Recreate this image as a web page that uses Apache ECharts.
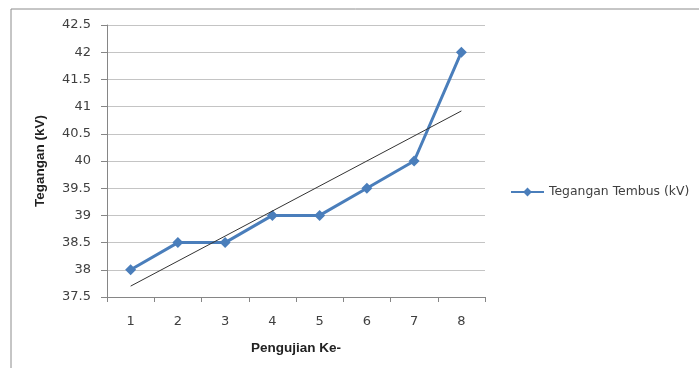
<!DOCTYPE html>
<html>
<head>
<meta charset="utf-8">
<script src="https://cdn.jsdelivr.net/npm/echarts@6/dist/echarts.min.js"></script>
<style>
  html, body { margin: 0; padding: 0; background: #fff; }
  #chart { width: 699px; height: 368px; }
</style>
</head>
<body>
<div id="chart"></div>
<script>
// Test number on the x axis
const categories = ['1', '2', '3', '4', '5', '6', '7', '8'];
// Breakdown voltage per test (kV)
const tegangan = [38, 38.5, 38.5, 39, 39, 39.5, 40, 42];
// Linear trend line: value at the first and last test
const trendEnds = [37.7, 40.92];
const seriesName = 'Tegangan Tembus (kV)';

const trendData = categories.map((c, i) =>
  i === 0 ? trendEnds[0] : (i === categories.length - 1 ? trendEnds[1] : null));

const textColor = '#404040';
const font = 'DejaVu Sans';

const chart = echarts.init(document.getElementById('chart'), null, { renderer: 'canvas' });
chart.setOption({
  animation: false,
  backgroundColor: '#fff',
  graphic: [{
    type: 'rect',
    shape: { x: 11, y: 9, width: 720, height: 400 },
    style: { fill: 'none', stroke: '#8c8c8c', lineWidth: 1 },
    silent: true
  }],
  grid: { left: 107, right: 214, top: 25, bottom: 71 },
  legend: {
    data: [seriesName],
    left: 505, top: 181,
    itemWidth: 33, itemHeight: 11, itemGap: 4,
    textStyle: { fontFamily: font, fontSize: 12.4, color: textColor }
  },
  xAxis: {
    type: 'category',
    data: categories,
    boundaryGap: true,
    name: 'Pengujian Ke-',
    nameLocation: 'middle',
    nameGap: 44,
    nameTextStyle: { fontFamily: 'Liberation Sans', fontWeight: 'bold', fontSize: 13.5, color: '#222' },
    axisLine: { lineStyle: { color: '#868686', width: 1 } },
    axisTick: { show: true, length: 5, lineStyle: { color: '#868686' } },
    axisLabel: { fontFamily: font, fontSize: 13, color: textColor, margin: 18 },
    splitLine: { show: false }
  },
  yAxis: {
    type: 'value',
    min: 37.5, max: 42.5, interval: 0.5,
    name: 'Tegangan (kV)',
    nameLocation: 'middle',
    nameGap: 60,
    nameRotate: 90,
    nameTextStyle: { fontFamily: 'Liberation Sans', fontWeight: 'bold', fontSize: 13.5, color: '#222' },
    axisLine: { show: true, lineStyle: { color: '#868686', width: 1 } },
    axisTick: { show: true, length: 6, lineStyle: { color: '#868686' } },
    axisLabel: { fontFamily: font, fontSize: 13, color: textColor, margin: 16 },
    splitLine: { show: true, lineStyle: { color: '#c4c4c4', width: 1 } }
  },
  series: [
    {
      name: seriesName,
      type: 'line',
      data: tegangan,
      symbol: 'diamond',
      symbolSize: 11,
      color: '#4a7ebb',
      lineStyle: { width: 3, color: '#4a7ebb' },
      itemStyle: { color: '#4a7ebb' },
      z: 3
    },
    {
      name: 'trend',
      type: 'line',
      data: trendData,
      connectNulls: true,
      symbol: 'none',
      lineStyle: { width: 1, color: '#333' },
      z: 4
    }
  ]
});
</script>
</body>
</html>
